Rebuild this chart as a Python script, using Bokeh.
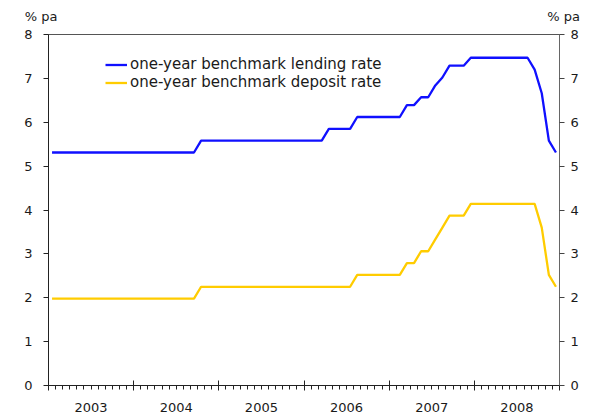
from bokeh.plotting import figure
from bokeh.models import (Range1d, LinearAxis, FixedTicker, Label, Legend,
                          CustomLabelingPolicy)
from bokeh.embed import file_html
from bokeh.resources import INLINE

# ---- data -------------------------------------------------------------
years = [2003, 2004, 2005, 2006, 2007, 2008]
year_labels = ["2003", "2004", "2005", "2006", "2007", "2008"]
y_ticks = [0, 1, 2, 3, 4, 5, 6, 7, 8]

# monthly (end-of-month) values, Jan 2003 .. Dec 2008
lending_rate = [
    5.31, 5.31, 5.31, 5.31, 5.31, 5.31, 5.31, 5.31, 5.31, 5.31, 5.31, 5.31,  # 2003
    5.31, 5.31, 5.31, 5.31, 5.31, 5.31, 5.31, 5.31, 5.31, 5.58, 5.58, 5.58,  # 2004
    5.58, 5.58, 5.58, 5.58, 5.58, 5.58, 5.58, 5.58, 5.58, 5.58, 5.58, 5.58,  # 2005
    5.58, 5.58, 5.58, 5.85, 5.85, 5.85, 5.85, 6.12, 6.12, 6.12, 6.12, 6.12,  # 2006
    6.12, 6.12, 6.39, 6.39, 6.57, 6.57, 6.84, 7.02, 7.29, 7.29, 7.29, 7.47,  # 2007
    7.47, 7.47, 7.47, 7.47, 7.47, 7.47, 7.47, 7.47, 7.20, 6.66, 5.58, 5.31,  # 2008
]
deposit_rate = [
    1.98, 1.98, 1.98, 1.98, 1.98, 1.98, 1.98, 1.98, 1.98, 1.98, 1.98, 1.98,  # 2003
    1.98, 1.98, 1.98, 1.98, 1.98, 1.98, 1.98, 1.98, 1.98, 2.25, 2.25, 2.25,  # 2004
    2.25, 2.25, 2.25, 2.25, 2.25, 2.25, 2.25, 2.25, 2.25, 2.25, 2.25, 2.25,  # 2005
    2.25, 2.25, 2.25, 2.25, 2.25, 2.25, 2.25, 2.52, 2.52, 2.52, 2.52, 2.52,  # 2006
    2.52, 2.52, 2.79, 2.79, 3.06, 3.06, 3.33, 3.60, 3.87, 3.87, 3.87, 4.14,  # 2007
    4.14, 4.14, 4.14, 4.14, 4.14, 4.14, 4.14, 4.14, 4.14, 3.60, 2.52, 2.25,  # 2008
]
series_names = ["one-year benchmark lending rate", "one-year benchmark deposit rate"]
unit_label = "% pa"

# month positions (mid-month, in decimal years)
month_x = [y + (m + 0.5) / 12 for y in years for m in range(12)]

FONT = "DejaVu Sans"
TXT = "#1a1a1a"

p = figure(width=592, height=418, output_backend="svg", toolbar_location=None,
           x_range=Range1d(years[0], years[-1] + 1), y_range=Range1d(0, 8),
           min_border_left=48, min_border_right=33, min_border_top=34,
           min_border_bottom=33, background_fill_color="white",
           border_fill_color="white")
p.grid.visible = False
p.outline_line_color = "#555555"
p.outline_line_width = 1

blue = p.line(month_x, lending_rate, line_color="#1010ff", line_width=2.3)
yellow = p.line(month_x, deposit_rate, line_color="#ffcc00", line_width=2.3)

legend = Legend(items=[(series_names[0], [blue]), (series_names[1], [yellow])],
                location=(57, 294), padding=0, margin=0, spacing=-3,
                label_height=15, glyph_height=15, glyph_width=22,
                label_standoff=3, border_line_color=None,
                background_fill_alpha=0, label_text_font=FONT,
                label_text_font_size="15px", label_text_color=TXT)
p.add_layout(legend, "center")

# bottom axis: year boundaries (crossing ticks) and monthly minor ticks, no labels
xa = p.xaxis[0]
xa.ticker = FixedTicker(ticks=years + [years[-1] + 1],
                        minor_ticks=[y + k / 12 for y in years for k in range(1, 12)])
xa.major_tick_in = 5
xa.major_tick_out = 5
xa.minor_tick_in = 0
xa.minor_tick_out = 4
xa.major_label_text_font_size = "0px"
xa.major_label_standoff = 0
xa.major_label_policy = CustomLabelingPolicy(
    code="for (const i of indices) { indices.unset(i) }\nreturn indices")
xa.axis_line_color = "#222222"
xa.major_tick_line_color = "#222222"
xa.minor_tick_line_color = "#222222"

# year labels centred in each year
xa2 = LinearAxis(ticker=FixedTicker(ticks=[y + 0.5 for y in years]),
                 major_label_overrides={y + 0.5: lab for y, lab in zip(years, year_labels)},
                 axis_line_color=None, major_tick_line_color=None,
                 minor_tick_line_color=None, major_label_standoff=6,
                 major_label_text_font=FONT, major_label_text_font_size="13px",
                 major_label_text_color=TXT)
p.add_layout(xa2, "below")

ya = p.yaxis[0]
ya.ticker = FixedTicker(ticks=y_ticks)
ya.major_tick_in = 0
ya.major_tick_out = 5
ya.minor_tick_out = 0
ya.minor_tick_in = 0
ya.major_label_standoff = 11
ya.major_label_text_font = FONT
ya.major_label_text_font_size = "13px"
ya.major_label_text_color = TXT
ya.axis_line_color = "#222222"
ya.major_tick_line_color = "#222222"

yr = LinearAxis(ticker=FixedTicker(ticks=y_ticks), major_tick_in=0, major_tick_out=5,
                minor_tick_in=0, minor_tick_out=0, major_label_standoff=6,
                major_label_text_font=FONT, major_label_text_font_size="13px",
                major_label_text_color=TXT, axis_line_color="#666666",
                major_tick_line_color="#444444")
p.add_layout(yr, "right")

# unit labels above both value axes (placed in the top panel so they are not clipped)
p.add_layout(Label(x=years[0] - 0.278, y=8.41, text=unit_label, text_font=FONT,
                   text_font_size="13px", text_color=TXT, text_baseline="middle",
                   text_align="left"), "above")
p.add_layout(Label(x=years[-1] + 1.24, y=8.41, text=unit_label, text_font=FONT,
                   text_font_size="13px", text_color=TXT, text_baseline="middle",
                   text_align="right"), "above")

open("out.html", "w").write(file_html(p, INLINE))
